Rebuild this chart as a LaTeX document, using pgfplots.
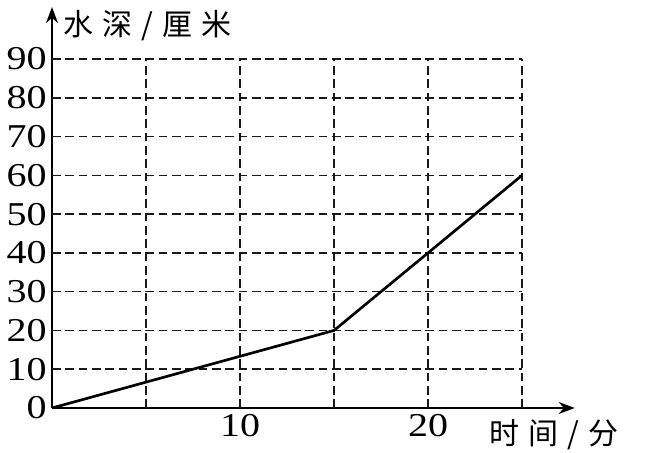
\documentclass[border=0pt]{standalone}
\usepackage{pgfplots}
\pgfplotsset{compat=1.18}
\usepackage{fontspec}
\setmainfont{Liberation Serif}
\newfontfamily\numfont[FakeStretch=1.2]{Liberation Serif}
\newfontfamily\cjk{Noto Sans CJK SC}
\usetikzlibrary{arrows.meta}

\begin{document}
\begin{tikzpicture}
\begin{axis}[
    scale only axis,
    width=392pt, height=300.7pt,
    xmin=0, xmax=27.8,
    ymin=0, ymax=103.4,
    axis lines=left,
    axis line style={line width=1.2pt, -{Stealth[length=12pt,width=9pt]}},
    xtick={10,20},
    ytick={0,10,...,90},
    major tick length=0pt,
    /pgf/number format/assume math mode=true,
    ticklabel style={font=\numfont\fontsize{25}{25}\selectfont},
    xticklabel style={yshift=-1pt},
    yticklabel style={xshift=-0.5pt},
    clip=false,
]
    % grid, dashed, only inside 0..25 x 0..90
    \pgfplotsinvokeforeach{10,20,...,90}{
        \draw[black!90, line width=1.1pt, dash pattern=on 6.5pt off 3.5pt]
            (axis cs:0,#1) -- (axis cs:25,#1);
    }
    \pgfplotsinvokeforeach{5,10,...,25}{
        \draw[black!90, line width=1.1pt, dash pattern=on 6.5pt off 3.5pt]
            (axis cs:#1,0) -- (axis cs:#1,90);
    }

    \addplot[black, line width=2pt, line join=miter] coordinates {
        (0,0) (15,20) (25,60)
    };
\end{axis}

% labels
\node[anchor=west, inner sep=0pt, font=\cjk\fontsize{22.5}{22.5}\selectfont]
    at (8.25pt,287pt) {水\hspace{0.3em}深\hspace{0.3em}/\hspace{0.3em}厘\hspace{0.3em}米};
\node[anchor=west, inner sep=0pt, font=\cjk\fontsize{22.5}{22.5}\selectfont]
    at (327.75pt,-20.25pt) {时\hspace{0.3em}间\hspace{0.3em}/\hspace{0.3em}分};

% picture frame (658x453 px)
\path (-39pt,306pt) (454.5pt,-33.75pt);
\end{tikzpicture}
\end{document}
